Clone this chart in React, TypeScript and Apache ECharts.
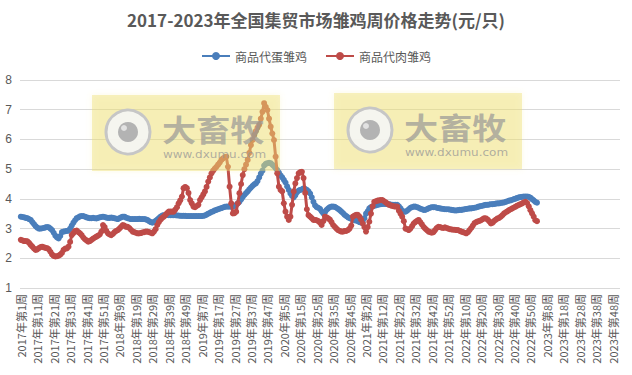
import React, { useEffect, useRef } from "react";
import * as echarts from "echarts";

const TITLE = "2017-2023年全国集贸市场雏鸡周价格走势(元/只)";
const YEARS = [2017, 2018, 2019, 2020, 2021, 2022, 2023];
const WEEKS_PER_YEAR = [52, 52, 52, 53, 52, 52, 52];
const SERIES_NAMES = ["商品代蛋雏鸡", "商品代肉雏鸡"];
const Y_TICKS = [1, 2, 3, 4, 5, 6, 7, 8];

const categories: string[] = [];
YEARS.forEach((y, i) => {
  for (let w = 1; w <= WEEKS_PER_YEAR[i]; w++) categories.push(`${y}年第${w}周`);
});

const eggChick = [
  3.40, 3.39, 3.38, 3.36, 3.35, 3.32, 3.29, 3.22, 3.15, 3.08,
  3.03, 3.00, 3.00, 3.01, 3.02, 3.04, 3.05, 3.04, 3.00, 2.95,
  2.86, 2.76, 2.70, 2.67, 2.75, 2.88, 2.90, 2.91, 2.92, 2.93,
  3.00, 3.10, 3.20, 3.28, 3.35, 3.38, 3.41, 3.42, 3.42, 3.40,
  3.38, 3.36, 3.35, 3.35, 3.36, 3.35, 3.34, 3.36, 3.38, 3.39,
  3.40, 3.39, 3.37, 3.36, 3.36, 3.37, 3.36, 3.35, 3.33, 3.32,
  3.35, 3.38, 3.40, 3.40, 3.37, 3.35, 3.33, 3.32, 3.32, 3.32,
  3.32, 3.32, 3.33, 3.32, 3.32, 3.32, 3.31, 3.29, 3.25, 3.22,
  3.20, 3.22, 3.26, 3.30, 3.35, 3.40, 3.44, 3.45, 3.45, 3.46,
  3.45, 3.45, 3.45, 3.45, 3.45, 3.44, 3.44, 3.43, 3.43, 3.43,
  3.43, 3.42, 3.42, 3.42, 3.42, 3.42, 3.42, 3.42, 3.42, 3.42,
  3.42, 3.43, 3.44, 3.47, 3.50, 3.53, 3.56, 3.58, 3.61, 3.63,
  3.65, 3.67, 3.69, 3.71, 3.73, 3.74, 3.74, 3.74, 3.74, 3.74,
  3.76, 3.80, 3.85, 3.90, 3.98, 4.06, 4.13, 4.19, 4.25, 4.32,
  4.38, 4.44, 4.49, 4.52, 4.60, 4.72, 4.85, 4.95, 5.12, 5.18,
  5.20, 5.21, 5.20, 5.15, 5.10, 5.03, 4.97, 4.88, 4.79, 4.72,
  4.64, 4.55, 4.42, 4.30, 4.18, 4.10, 4.05, 4.12, 4.22, 4.28,
  4.30, 4.32, 4.35, 4.34, 4.30, 4.25, 4.18, 4.05, 3.90, 3.78,
  3.72, 3.70, 3.66, 3.58, 3.51, 3.55, 3.63, 3.68, 3.72, 3.74,
  3.74, 3.73, 3.70, 3.66, 3.62, 3.57, 3.52, 3.46, 3.42, 3.38,
  3.35, 3.33, 3.30, 3.28, 3.27, 3.25, 3.22, 3.20, 3.22, 3.35,
  3.50, 3.58, 3.68, 3.72, 3.75, 3.77, 3.78, 3.80, 3.81, 3.82,
  3.83, 3.83, 3.83, 3.82, 3.82, 3.81, 3.80, 3.80, 3.80, 3.80,
  3.75, 3.68, 3.60, 3.57, 3.57, 3.60, 3.65, 3.70, 3.72, 3.74,
  3.74, 3.72, 3.70, 3.67, 3.65, 3.63, 3.63, 3.65, 3.68, 3.70,
  3.72, 3.72, 3.72, 3.70, 3.69, 3.68, 3.67, 3.66, 3.65, 3.65,
  3.65, 3.64, 3.63, 3.62, 3.61, 3.61, 3.62, 3.63, 3.63, 3.64,
  3.65, 3.66, 3.67, 3.68, 3.68, 3.69, 3.70, 3.71, 3.73, 3.75,
  3.76, 3.77, 3.79, 3.80, 3.80, 3.81, 3.82, 3.82, 3.83, 3.84,
  3.85, 3.85, 3.86, 3.87, 3.88, 3.90, 3.92, 3.94, 3.95, 3.97,
  3.99, 4.01, 4.03, 4.05, 4.06, 4.07, 4.08, 4.08, 4.08, 4.07,
  4.04, 3.99, 3.95, 3.90, 3.87,
];

const meatChick = [
  2.62, 2.60, 2.58, 2.58, 2.57, 2.52, 2.45, 2.39, 2.33, 2.28,
  2.30, 2.34, 2.38, 2.39, 2.37, 2.35, 2.34, 2.30, 2.22, 2.13,
  2.08, 2.06, 2.07, 2.09, 2.12, 2.18, 2.28, 2.33, 2.33, 2.39,
  2.55, 2.78, 2.85, 2.92, 2.93, 2.88, 2.84, 2.78, 2.70, 2.64,
  2.60, 2.56, 2.58, 2.62, 2.66, 2.70, 2.73, 2.76, 2.80, 2.90,
  3.12, 3.05, 2.92, 2.84, 2.80, 2.78, 2.82, 2.88, 2.92, 2.95,
  3.00, 3.06, 3.12, 3.10, 3.06, 3.06, 3.02, 2.96, 2.90, 2.88,
  2.86, 2.84, 2.84, 2.85, 2.87, 2.88, 2.90, 2.90, 2.88, 2.86,
  2.84, 2.90, 2.98, 3.12, 3.22, 3.30, 3.36, 3.40, 3.46, 3.52,
  3.57, 3.57, 3.57, 3.57, 3.64, 3.72, 3.85, 3.95, 4.08, 4.36,
  4.40, 4.36, 4.20, 3.96, 3.85, 3.74, 3.72, 3.76, 3.80, 3.96,
  4.05, 4.15, 4.25, 4.40, 4.58, 4.72, 4.86, 4.95, 5.02, 5.08,
  5.15, 5.22, 5.31, 5.36, 5.40, 5.42, 5.08, 4.41, 3.85, 3.51,
  3.52, 3.57, 3.85, 4.19, 4.50, 4.80, 5.00, 5.15, 5.31, 5.55,
  5.81, 5.98, 6.15, 6.28, 6.40, 6.49, 6.70, 6.93, 7.22, 7.10,
  6.99, 6.70, 6.43, 6.20, 5.98, 5.42, 4.86, 4.41, 4.30, 4.25,
  3.85, 3.57, 3.40, 3.29, 3.40, 3.80, 4.25, 4.52, 4.70, 4.86,
  4.90, 4.91, 4.70, 4.20, 3.65, 3.45, 3.40, 3.35, 3.29, 3.29,
  3.28, 3.25, 3.20, 3.12, 3.25, 3.40, 3.38, 3.34, 3.30, 3.22,
  3.12, 3.06, 3.00, 2.95, 2.92, 2.90, 2.90, 2.92, 2.92, 2.95,
  3.00, 3.10, 3.40, 3.44, 3.46, 3.46, 3.40, 3.30, 3.17, 3.05,
  2.90, 3.05, 3.23, 3.50, 3.75, 3.90, 3.92, 3.94, 3.95, 3.96,
  3.96, 3.92, 3.88, 3.84, 3.80, 3.78, 3.76, 3.75, 3.74, 3.74,
  3.60, 3.50, 3.40, 3.25, 3.00, 2.98, 2.95, 3.00, 3.08, 3.17,
  3.22, 3.26, 3.29, 3.22, 3.14, 3.06, 3.00, 2.95, 2.90, 2.88,
  2.86, 2.88, 2.95, 3.02, 3.06, 3.05, 3.03, 3.02, 3.04, 3.02,
  3.00, 2.98, 2.97, 2.96, 2.96, 2.95, 2.95, 2.92, 2.90, 2.88,
  2.86, 2.84, 2.88, 2.95, 3.02, 3.10, 3.18, 3.22, 3.24, 3.26,
  3.28, 3.32, 3.35, 3.34, 3.30, 3.24, 3.17, 3.20, 3.26, 3.30,
  3.34, 3.36, 3.40, 3.45, 3.51, 3.55, 3.58, 3.62, 3.65, 3.68,
  3.71, 3.74, 3.77, 3.80, 3.82, 3.85, 3.88, 3.90, 3.86, 3.75,
  3.62, 3.51, 3.40, 3.28, 3.25,
];

const TEXT_COLOR = "#595959";
const BLUE = "#4a7ebb";
const RED = "#be4b48";

function watermark(x: number, y: number) {
  const z = 100;
  return {
    type: "group",
    x,
    y,
    children: [
      {
        type: "rect",
        z,
        shape: { x: 0, y: 0, width: 188, height: 76 },
        style: {
          fill: "rgba(238,222,110,0.40)",
          shadowBlur: 6,
          shadowColor: "rgba(238,222,110,0.45)",
        },
      },
      {
        type: "circle",
        z,
        shape: { cx: 36, cy: 37, r: 22 },
        style: { fill: "rgba(245,245,245,0.9)", stroke: "#c6c6c6", lineWidth: 3 },
      },
      {
        type: "circle",
        z,
        shape: { cx: 36, cy: 37, r: 10 },
        style: { fill: "#b3b3b3" },
      },
      {
        type: "circle",
        z,
        shape: { cx: 32, cy: 33, r: 3 },
        style: { fill: "#e2e2e2" },
      },
      {
        type: "text",
        z,
        x: 70,
        y: 33,
        scaleX: 1.22,
        scaleY: 1.05,
        style: {
          text: "大畜牧",
          font: 'bold 28px "Noto Sans CJK SC"',
          fill: "rgba(150,150,150,0.7)",
          textVerticalAlign: "middle",
        },
      },
      {
        type: "text",
        z,
        x: 71,
        y: 60,
        scaleX: 1.2,
        style: {
          text: "www.dxumu.com",
          font: '10px "DejaVu Sans"',
          fill: "rgba(150,150,150,0.75)",
          textVerticalAlign: "middle",
        },
      },
    ],
  };
}

export default function App() {
  const ref = useRef<HTMLDivElement>(null);
  useEffect(() => {
    document.body.style.margin = "0";
    if (!ref.current) return;
    const chart = echarts.init(ref.current, undefined, { renderer: "svg" });
    chart.setOption({
      animation: false,
      backgroundColor: "#ffffff",
      title: {
        text: TITLE,
        left: "center",
        top: 6,
        textStyle: {
          fontFamily: '"Noto Sans CJK SC"',
          fontSize: 17,
          fontWeight: "bold",
          color: TEXT_COLOR,
        },
      },
      legend: {
        top: 45,
        left: "center",
        itemWidth: 28,
        itemHeight: 10,
        itemGap: 18,
        textStyle: { fontFamily: '"Noto Sans CJK SC"', fontSize: 12, color: TEXT_COLOR },
        data: SERIES_NAMES,
      },
      grid: { left: 20, right: 12, top: 80, bottom: 87, containLabel: false },
      xAxis: {
        type: "category",
        data: categories,
        boundaryGap: true,
        axisLine: { show: false },
        axisTick: { show: false },
        axisLabel: {
          interval: 9,
          rotate: 90,
          fontSize: 11,
          color: TEXT_COLOR,
          fontFamily: '"Noto Sans CJK SC"',
          margin: 6,
        },
      },
      yAxis: {
        type: "value",
        min: 1,
        max: 8,
        interval: 1,
        axisLine: { show: false },
        axisTick: { show: false },
        axisLabel: {
          fontSize: 12,
          color: TEXT_COLOR,
          margin: 8,
          formatter: (v: number) => (Y_TICKS.includes(v) ? String(v) : ""),
        },
        splitLine: { lineStyle: { color: "#d9d9d9", width: 1 } },
      },
      series: [
        {
          name: SERIES_NAMES[0],
          type: "line",
          data: eggChick,
          symbol: "circle",
          symbolSize: 6,
          showSymbol: true,
          showAllSymbol: true,
          lineStyle: { width: 3, color: BLUE },
          itemStyle: { color: BLUE },
          z: 2,
        },
        {
          name: SERIES_NAMES[1],
          type: "line",
          data: meatChick,
          symbol: "circle",
          symbolSize: 6,
          showSymbol: true,
          showAllSymbol: true,
          lineStyle: { width: 3, color: RED },
          itemStyle: { color: RED },
          z: 3,
        },
      ],
      graphic: [watermark(92, 95), watermark(334, 93)],
    });
    return () => chart.dispose();
  }, []);
  return (
    <div
      ref={ref}
      style={{ width: 632, height: 375, position: "absolute", left: 0, top: 0 }}
    />
  );
}
